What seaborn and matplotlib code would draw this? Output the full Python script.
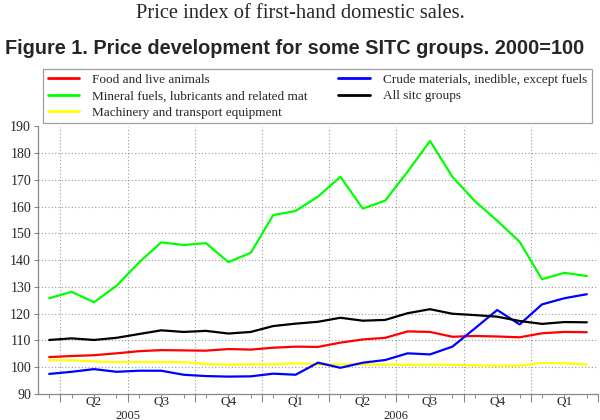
import numpy as np
import pandas as pd
import matplotlib
matplotlib.use("Agg")
import matplotlib.pyplot as plt
import seaborn as sns

# ---- data (monthly, Mar 2005 .. Mar 2007) ----
months = pd.date_range("2005-03-01", "2007-03-01", freq="MS").strftime("%Y-%m").tolist()

food = [103.8, 104.2, 104.5, 105.2, 106.0, 106.4, 106.3, 106.2, 106.8, 106.6, 107.3, 107.7,
        107.6, 109.2, 110.4, 111.0, 113.4, 113.2, 111.4, 111.7, 111.5, 111.2, 112.7, 113.2, 113.1]
mineral = [125.8, 128.2, 124.3, 130.4, 139.1, 146.7, 145.7, 146.4, 139.3, 142.8, 156.9, 158.4,
           163.8, 171.2, 159.3, 162.3, 173.1, 184.6, 171.2, 162.1, 154.8, 146.9, 132.9, 135.3, 134.1]
machinery = [102.6, 102.6, 102.2, 101.9, 102.0, 101.9, 101.9, 101.2, 101.0, 101.1, 101.1, 101.5,
             101.1, 101.1, 101.1, 101.0, 100.9, 101.0, 100.9, 100.7, 100.6, 100.6, 101.6, 101.5, 101.0]
crude = [97.5, 98.3, 99.3, 98.3, 98.7, 98.7, 97.2, 96.7, 96.5, 96.6, 97.6, 97.2,
         101.7, 99.8, 101.7, 102.7, 105.2, 104.8, 107.7, 114.5, 121.4, 116.0, 123.5, 125.8, 127.3]
all_sitc = [110.2, 110.8, 110.2, 111.0, 112.4, 113.8, 113.2, 113.6, 112.6, 113.2, 115.4, 116.3,
            117.0, 118.5, 117.4, 117.7, 120.2, 121.7, 120.0, 119.5, 118.9, 117.3, 116.2, 116.9, 116.8]

series_names = ["Food and live animals",
                "Mineral fuels, lubricants and related mat",
                "Machinery and transport equipment",
                "Crude materials, inedible, except fuels",
                "All sitc groups"]
series_values = [food, mineral, machinery, crude, all_sitc]
series_colors = ["#ff0000", "#00ff00", "#ffff00", "#0000ff", "#000000"]

quarter_labels = ["Q2", "Q3", "Q4", "Q1", "Q2", "Q3", "Q4", "Q1"]
quarter_months = ["2005-05", "2005-08", "2005-11", "2006-02", "2006-05", "2006-08", "2006-11", "2007-02"]
year_labels = ["2005", "2006"]
year_pos = [3.5, 15.5]

y_ticks = list(range(90, 191, 10))

# ---- build table ----
rows = []
for name, vals in zip(series_names, series_values):
    for i, (m, v) in enumerate(zip(months, vals)):
        rows.append({"idx": i, "month": m, "series": name, "value": v})
df = pd.DataFrame(rows)

sns.set_theme(style="white")
plt.rcParams["font.family"] = ["Liberation Serif", "DejaVu Serif"]

fig = plt.figure(figsize=(6, 4.2), dpi=100)
ax = fig.add_axes([38 / 600, 26 / 420, 560 / 600, 267.5 / 420])

sns.lineplot(data=df, x="idx", y="value", hue="series", hue_order=series_names,
             palette=series_colors, linewidth=1.6, ax=ax, legend=False)

n = len(months)
ax.set_xlim(-0.5, n - 0.5)
ax.set_ylim(90, 190)
ax.set_xlabel("")
ax.set_ylabel("")

# grid
for yv in y_ticks[1:]:
    ax.axhline(yv, color="#999999", lw=0.8, ls=(0, (1, 2)), zorder=0)
q_bounds = [b - 0.5 for b in range(1, n + 1) if months[b - 1][5:7] in ("03", "06", "09", "12")]
for xb in q_bounds:
    ax.axvline(xb, color="#999999", lw=0.8, ls=(0, (1, 2)), zorder=0)

for s in ["top", "right"]:
    ax.spines[s].set_visible(False)
for s in ["left", "bottom"]:
    ax.spines[s].set_color("#888888")
    ax.spines[s].set_linewidth(0.9)

ax.set_yticks(y_ticks)
ax.set_yticklabels([str(v) for v in y_ticks], fontsize=10)
ax.tick_params(axis="y", length=3, width=0.8, color="#888888", pad=2, left=True)

# x ticks: minor at every month, major at quarter boundaries
ax.set_xticks(q_bounds)
ax.set_xticklabels([""] * len(q_bounds))
ax.set_xticks(list(range(n)), minor=True)
ax.tick_params(axis="x", which="major", length=6, width=0.8, color="#888888", bottom=True)
ax.tick_params(axis="x", which="minor", length=3, width=0.7, color="#888888", bottom=True)

for lab, m in zip(quarter_labels, quarter_months):
    ax.text(months.index(m), -0.008, lab, transform=ax.get_xaxis_transform(),
            ha="center", va="top", fontsize=9.5)
for lab, xp in zip(year_labels, year_pos):
    ax.text(xp, -0.058, lab, transform=ax.get_xaxis_transform(),
            ha="center", va="top", fontsize=9)

# legend
handles = [plt.Line2D([], [], color=c, lw=2) for c in series_colors]
leg = fig.legend(handles, series_names, ncol=2, loc="upper left",
                 bbox_to_anchor=(43 / 600, 1 - 73 / 420, 549 / 600, 0.01),
                 mode="expand", fontsize=9.5, frameon=True, fancybox=False,
                 edgecolor="#888888", handlelength=2.4, handletextpad=1.0,
                 labelspacing=0.33, borderpad=0.35, borderaxespad=0)
leg.get_frame().set_linewidth(0.9)

# titles
fig.text(0.5, 1 - 13 / 420, "Price index of first-hand domestic sales.",
         ha="center", va="center", fontsize=14.8, family=["Liberation Serif"])
fig.text(5 / 600, 1 - 48 / 420, "Figure 1. Price development for some SITC groups. 2000=100",
         ha="left", va="center", fontsize=14.3, fontweight="bold", family=["Liberation Sans"])

fig.savefig("out.png", dpi=100, facecolor="white")
